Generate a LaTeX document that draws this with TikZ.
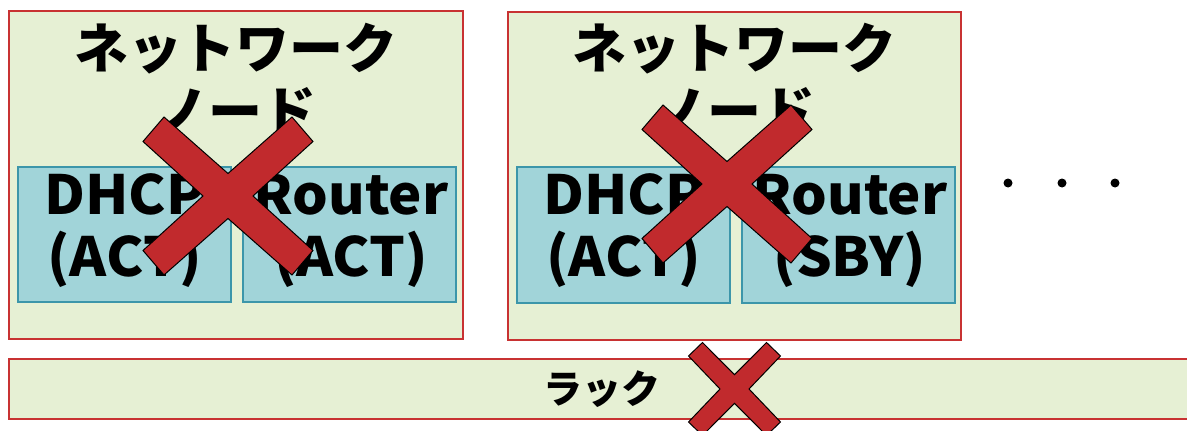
\documentclass[tikz,border=0pt]{standalone}
\usepackage{fontspec}
\setmainfont{Noto Sans CJK JP}
\definecolor{boxfill}{RGB}{230,240,212}
\definecolor{boxline}{RGB}{200,50,50}
\definecolor{infill}{RGB}{161,212,217}
\definecolor{inline}{RGB}{60,150,170}
\definecolor{xfill}{RGB}{193,42,45}
\tikzset{
  netbox/.style={draw=boxline, fill=boxfill, line width=1.2pt, minimum width=454pt, minimum height=328pt, inner sep=0pt},
  subbox/.style={draw=inline, fill=infill, line width=1.2pt, minimum width=213pt, minimum height=135pt, inner sep=0pt},
  racks/.style={draw=boxline, fill=boxfill, line width=1.2pt, minimum width=1200pt, minimum height=60pt, inner sep=0pt},
  bigtext/.style={font=\bfseries\fontsize{54}{63}\selectfont, align=center, inner sep=0pt},
  subtext/.style={font=\bfseries\fontsize{54}{62}\selectfont, align=center, inner sep=0pt, xscale=1.04},
  racktext/.style={font=\bfseries\fontsize{39}{44}\selectfont, inner sep=0pt},
  xmark/.style={fill=xfill, draw=black, line width=1pt, line join=miter},
  dotm/.style={fill=black, draw=none},
  pics/bigx/.style={code={
    \path[xmark] (-85,-54.5) -- (-64,-79) -- (0,-22.5) -- (64,-79) -- (85,-54.5) -- (25,0)
      -- (85,54.5) -- (64,79) -- (0,22.5) -- (-64,79) -- (-85,54.5) -- (-25,0) -- cycle;}},
  pics/smallx/.style={code={
    \path[xmark] (-46,-33) -- (-32,-46.5) -- (0,-14.3) -- (32,-46.5) -- (46,-33) -- (14.5,0)
      -- (46,33) -- (32,46.5) -- (0,14.3) -- (-32,46.5) -- (-46,33) -- (-14.5,0) -- cycle;}}
}
\begin{document}
\begin{tikzpicture}[x=1pt,y=-1pt]
\useasboundingbox (0,0) rectangle (1187,431);
% network nodes
\node[netbox] (net1) at (236,175) {};
\node[netbox, minimum width=453pt] (net2) at (734.5,176) {};
\node[bigtext] (t1) at (236,79) {ネットワーク\\ノード};
\node[bigtext] (t2) at (734.5,79) {ネットワーク\\ノード};
% inner boxes
\node[subbox] (d1) at (124.5,234.5) {};
\node[subbox] (r1) at (349.5,234.5) {};
\node[subbox, minimum height=136pt] (d2) at (623.5,235) {};
\node[subbox, minimum height=136pt] (r2) at (848.5,235) {};
\node[subtext] (d1t) at (124.5,231) {DHCP\\(ACT)};
\node[subtext] (r1t) at (351,231) {Router\\(ACT)};
\node[subtext] (d2t) at (623.5,231) {DHCP\\(ACT)};
\node[subtext] (r2t) at (850,231) {Router\\(SBY)};
% rack
\node[racks] (rack) at (609,389) {};
\node[racktext] (rackt) at (602,389) {ラック};
% dots
\fill[dotm] (1008,183) circle (4.5);
\fill[dotm] (1062,183) circle (4.5);
\fill[dotm] (1115,183) circle (4.5);
% crosses
\pic at (228,196) {bigx};
\pic at (727,184) {bigx};
\pic at (734.5,389) {smallx};
\end{tikzpicture}
\end{document}
